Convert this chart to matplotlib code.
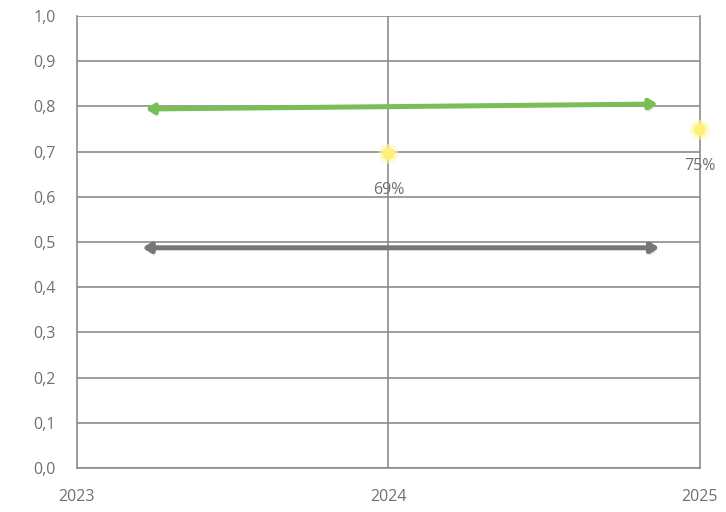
import matplotlib.pyplot as plt
import matplotlib.patheffects as pe
import numpy as np

# arrows (start year, end year, start value, end value)
green_x = [2023.22, 2024.865]
green_y = [0.794, 0.805]
gray_x = [2023.21, 2024.87]
gray_y = [0.487, 0.487]

# yellow points
point_x = [2024, 2025]
point_y = [0.695, 0.748]
point_labels = ['69%', '75%']

years = [2023, 2024, 2025]
yticks = np.round(np.arange(0, 1.01, 0.1), 1)

plt.rcParams['font.family'] = ['Open Sans', 'DejaVu Sans']

fig = plt.figure(figsize=(7.26, 5.12), dpi=100)
ax = fig.add_axes([0.106, 0.086, 0.858, 0.883])

ax.set_xlim(2023, 2025)
ax.set_ylim(0, 1.0)

# grid
grid_col = '#8c8c8c'
for y in yticks:
    ax.axhline(y, color=grid_col, lw=1.2, zorder=1)
ax.axvline(2024, color=grid_col, lw=1.2, zorder=1)
for s in ax.spines.values():
    s.set_color(grid_col)
    s.set_linewidth(1.2)
ax.spines['top'].set_visible(False)

ax.set_yticks(yticks)
ax.set_yticklabels([f'{v:.1f}'.replace('.', ',') for v in yticks])
ax.set_xticks(years)
ax.set_xticklabels([str(y) for y in years])
ax.tick_params(length=0, labelsize=11.5, colors='#707070')
ax.tick_params(axis='y', pad=15)
ax.tick_params(axis='x', pad=15)

shadow = [pe.SimplePatchShadow(offset=(1, -3), shadow_rgbFace='#9a9a9a', alpha=0.3), pe.Normal()]

ax.annotate('', xy=(green_x[1], green_y[1]), xytext=(green_x[0], green_y[0]),
            arrowprops=dict(arrowstyle='<|-|>,head_length=0.45,head_width=0.28',
                            color='#78c055', lw=3.6, shrinkA=0, shrinkB=0,
                            path_effects=shadow), zorder=3)
ax.annotate('', xy=(gray_x[1], gray_y[1]), xytext=(gray_x[0], gray_y[0]),
            arrowprops=dict(arrowstyle='<|-|>,head_length=0.45,head_width=0.28',
                            color='#777777', lw=3.6, shrinkA=0, shrinkB=0,
                            path_effects=shadow), zorder=3)

ax.scatter(point_x, point_y, s=200, color='#fff7b0', alpha=0.6, edgecolors='none', zorder=4, clip_on=False)
ax.scatter(point_x, point_y, s=80, color='#fff07a', edgecolors='none', zorder=4, clip_on=False)
for x, y, lab in zip(point_x, point_y, point_labels):
    ax.annotate(lab, (x, y), xytext=(0, -20), textcoords='offset points',
                ha='center', va='top', fontsize=11.5, color='#707070', zorder=5,
                annotation_clip=False)

fig.savefig('out.png', dpi=100)
